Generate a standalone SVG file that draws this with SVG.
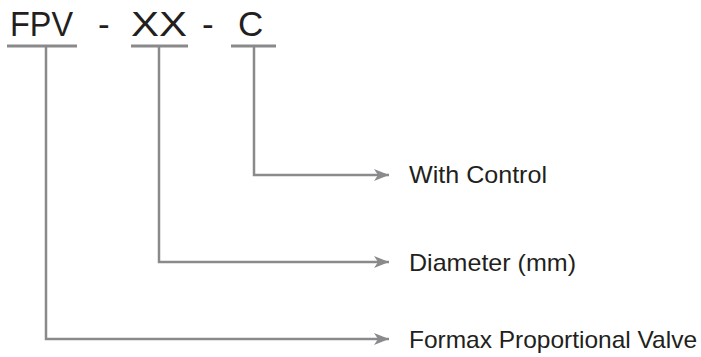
<svg xmlns="http://www.w3.org/2000/svg" width="701" height="357" viewBox="0 0 701 357">
<defs>
<style>
.t{font-family:"Liberation Sans",Arial,sans-serif;fill:#231f20}
.code{font-size:35px}
.lab{font-size:24px}
.ln{stroke:#8a8a8c;stroke-width:3;fill:none}
.ar{stroke:#8a8a8c;stroke-width:2.5;fill:none}
</style>
<marker id="ah" markerWidth="16" markerHeight="12" refX="15" refY="6" orient="auto" markerUnits="userSpaceOnUse">
<path d="M0,0 L15,6 L0,12 L4,6 Z" fill="#8a8a8c"/>
</marker>
</defs>
<rect width="701" height="357" fill="#fff"/>
<g id="code">
<text class="t code" x="10" y="36" textLength="63" lengthAdjust="spacingAndGlyphs">FPV</text>
<text class="t code" x="98" y="36">-</text>
<text class="t code" x="131" y="36" textLength="56" lengthAdjust="spacingAndGlyphs">XX</text>
<text class="t code" x="202" y="36">-</text>
<text class="t code" x="238" y="36">C</text>
</g>
<g id="underlines">
<line class="ln" x1="7" y1="46" x2="77" y2="46"/>
<line class="ln" x1="131" y1="46" x2="188" y2="46"/>
<line class="ln" x1="231" y1="46" x2="276" y2="46"/>
</g>
<g id="connectors">
<path class="ar" d="M254,46 V175 H389" marker-end="url(#ah)"/>
<path class="ar" d="M159,46 V262 H389" marker-end="url(#ah)"/>
<path class="ar" d="M46,46 V339 H389" marker-end="url(#ah)"/>
</g>
<g id="label-control"><text class="t lab" x="409" y="183" textLength="138" lengthAdjust="spacingAndGlyphs">With Control</text></g>
<g id="label-diameter"><text class="t lab" x="409" y="271" textLength="167" lengthAdjust="spacingAndGlyphs">Diameter (mm)</text></g>
<g id="label-formax"><text class="t lab" x="409" y="348" textLength="288" lengthAdjust="spacingAndGlyphs">Formax Proportional Valve</text></g>
</svg>
